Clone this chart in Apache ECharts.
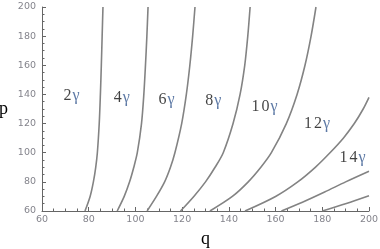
<!DOCTYPE html>
<html><head><meta charset="utf-8">
<script src="https://cdn.jsdelivr.net/npm/echarts@6/dist/echarts.min.js"></script>
<style>html,body{margin:0;padding:0;background:#fff}#c{width:380px;height:249px}</style>
</head><body><div id="c"></div>
<script>
// Contour curves (q, p)
const curve2g  = [[78.4,60],[80.6,70],[82.0,80],[83.0,90],[83.7,100],[84.5,120],[85.0,140],[85.4,160],[85.75,180],[86.1,200]];
const curve4g  = [[92.2,60],[95.2,70],[97.5,80],[99.3,90],[100.8,100],[102.6,120],[103.6,140],[104.3,160],[104.9,180],[105.4,200]];
const curve6g  = [[105.0,60],[109.0,70],[112.5,80],[115.0,90],[116.9,100],[119.8,120],[121.8,140],[123.3,160],[124.5,180],[125.5,200]];
const curve8g  = [[119.3,60],[125.0,70],[130.0,80],[134.1,90],[137.6,100],[141.8,120],[144.8,140],[146.8,160],[148.1,180],[149.1,200]];
const curve10g = [[131.9,60],[141.5,70],[148.3,80],[153.7,90],[158.2,100],[164.6,120],[169.2,140],[172.6,160],[175.2,180],[177.3,200]];
const curve12g = [[146.9,60],[160.0,70],[169.5,80],[177.0,90],[183.3,100],[189.0,110],[193.7,120],[197.5,130],[200,138]];
const curve14g = [[162.5,60],[171.5,66],[181.0,73],[190.0,80],[200,87.3]];
const curve16g = [[180.0,60],[190.3,65.2],[200,70.5]];
const curves = [curve2g, curve4g, curve6g, curve8g, curve10g, curve12g, curve14g, curve16g];

// Curve labels and their anchor points (q, p)
const labelNumbers = ['2','4','6','8','10','12','14'];
const labelAnchors = [[72.6,139.3],[94.2,137.5],[113.3,136.6],[133.3,135.5],[154.8,131.7],[177.3,119.7],[192.5,96.4]];

// Axis ticks
const xMin = 60, xMax = 200, yMin = 60, yMax = 200, tickStep = 20;

const chart = echarts.init(document.getElementById('c'), null, {renderer:'canvas'});
const tickLabel = {color:'#84848c', fontFamily:'DejaVu Sans', fontSize:9.5};
const axisCommon = {
  type:'value', interval:tickStep,
  axisLine:{show:true, onZero:false, lineStyle:{color:'#666', width:1}},
  axisTick:{show:true, inside:true, length:4, lineStyle:{color:'#666'}},
  minorTick:{show:true, splitNumber:4, length:2.5, lineStyle:{color:'#666'}},
  splitLine:{show:false}
};
const series = curves.map(c => ({
  type:'line', data:c, showSymbol:false, smooth:0.3, clip:true,
  lineStyle:{color:'#838383', width:1.6}, silent:true
}));
series.push({
  type:'scatter', symbolSize:0, silent:true,
  data: labelAnchors.map((a,i)=>({value:a, name:labelNumbers[i]})),
  label:{show:true, position:'inside',
    formatter: p => p.name.split('').map(ch => (ch === '1' ? '{one|1}' : '{d|' + ch + '}')).join('') + '{g|γ}',
    rich:{
      d:{fontFamily:'Liberation Serif', fontSize:16, color:'#111'},
      one:{fontFamily:'Liberation Serif', fontSize:16, color:'#111', padding:[0,2,0,2]},
      g:{fontFamily:'Liberation Serif', fontSize:16, color:'#34578f', padding:[0,0,0,1]}
    }}
});
chart.setOption({
  animation:false,
  grid:{left:42, right:11, top:7, bottom:38, containLabel:false, outerBoundsMode:'none'},
  xAxis:Object.assign({}, axisCommon, {min:xMin, max:xMax, name:'q', nameLocation:'middle', nameGap:12,
    nameTextStyle:{fontFamily:'Liberation Serif', fontSize:18, color:'#000'},
    axisLabel:Object.assign({margin:4}, tickLabel)}),
  yAxis:Object.assign({}, axisCommon, {min:yMin, max:yMax, name:'p', nameLocation:'middle', nameGap:34, nameRotate:0,
    nameTextStyle:{fontFamily:'Liberation Serif', fontSize:18, color:'#000', padding:[0,0,6,0]},
    axisLabel:Object.assign({margin:6}, tickLabel)}),
  series: series
});
</script></body></html>
